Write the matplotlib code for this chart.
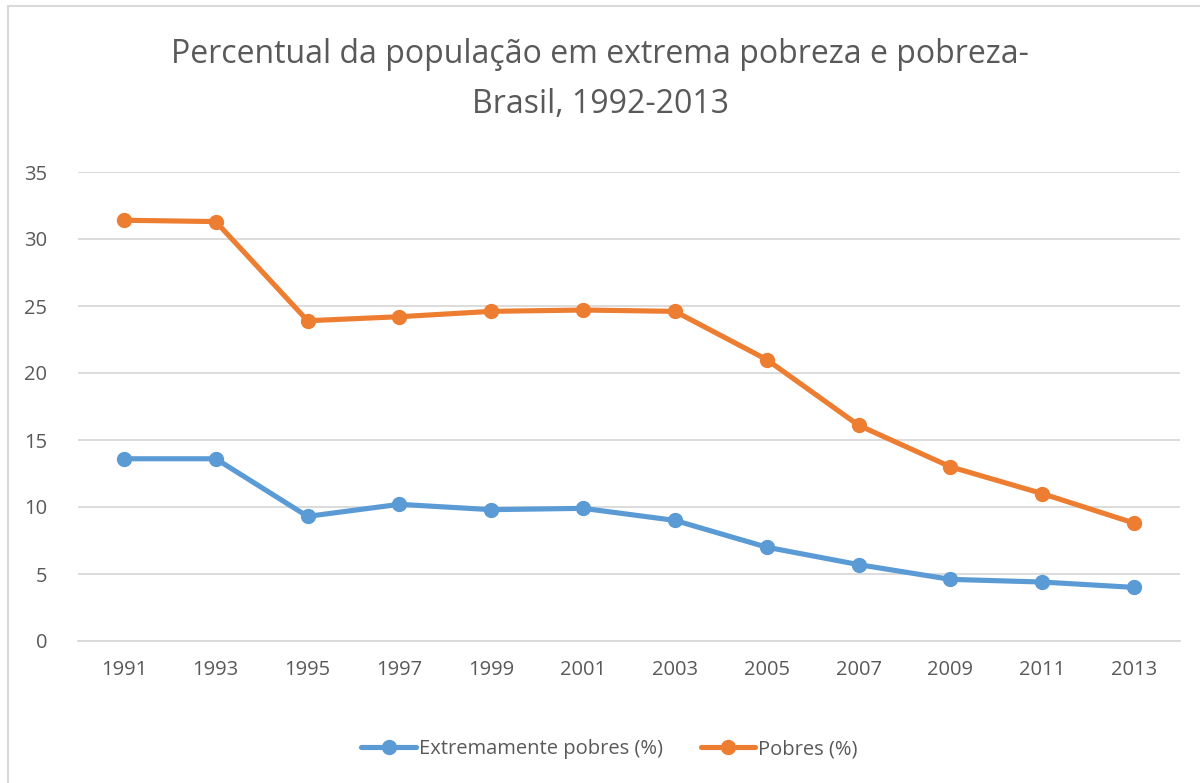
import matplotlib.pyplot as plt
import matplotlib.patches as patches

# data
years = ['1991', '1993', '1995', '1997', '1999', '2001', '2003', '2005', '2007', '2009', '2011', '2013']
extremamente_pobres = [13.6, 13.6, 9.3, 10.2, 9.8, 9.9, 9.0, 7.0, 5.7, 4.6, 4.4, 4.0]
pobres = [31.4, 31.3, 23.9, 24.2, 24.6, 24.7, 24.6, 21.0, 16.1, 13.0, 11.0, 8.8]

blue = '#5B9BD5'
orange = '#ED7D31'
txt = '#595959'

plt.rcParams['font.family'] = ['Open Sans', 'DejaVu Sans']

fig = plt.figure(figsize=(12, 7.83), dpi=100)
ax = fig.add_axes([78 / 1200, 1 - 641 / 783, 1102 / 1200, 469 / 783])

x = range(len(years))
ax.plot(x, extremamente_pobres, color=blue, lw=3.7, marker='o', ms=10,
        solid_capstyle='round', label='Extremamente pobres (%)', zorder=3)
ax.plot(x, pobres, color=orange, lw=3.7, marker='o', ms=10,
        solid_capstyle='round', label='Pobres (%)', zorder=3)

ax.set_xlim(-0.5, len(years) - 0.5)
ax.set_ylim(0, 35)
ax.set_yticks(range(0, 36, 5))
ax.set_xticks(list(x))
ax.set_xticklabels(years)
ax.grid(axis='y', color='#D9D9D9', lw=1.3)
ax.set_axisbelow(True)
for s in ['top', 'right', 'left']:
    ax.spines[s].set_visible(False)
ax.spines['bottom'].set_color('#D9D9D9')
ax.spines['bottom'].set_linewidth(1.3)
ax.tick_params(length=0, labelsize=14.5, labelcolor=txt)
ax.tick_params(axis='y', pad=22)
ax.tick_params(axis='x', pad=14)

fig.text(0.5, 1 - 63 / 783, 'Percentual da população em extrema pobreza e pobreza-',
         ha='center', va='baseline', fontsize=23, color=txt)
fig.text(0.5, 1 - 113 / 783, 'Brasil, 1992-2013',
         ha='center', va='baseline', fontsize=23, color=txt)

leg = fig.legend(loc='center', bbox_to_anchor=(0.508, 1 - 749 / 783), ncol=2, frameon=False,
                 fontsize=14.5, handlelength=2.7, handletextpad=0.15, columnspacing=1.9)
for t in leg.get_texts():
    t.set_color(txt)

# light chart border
fig.patches.append(patches.Rectangle((8 / 1200, -0.01), 1.02, 1 - 6 / 783 + 0.01,
                                     transform=fig.transFigure, fill=False,
                                     edgecolor='#D9D9D9', lw=1.5))

plt.savefig('out.png', dpi=100)
